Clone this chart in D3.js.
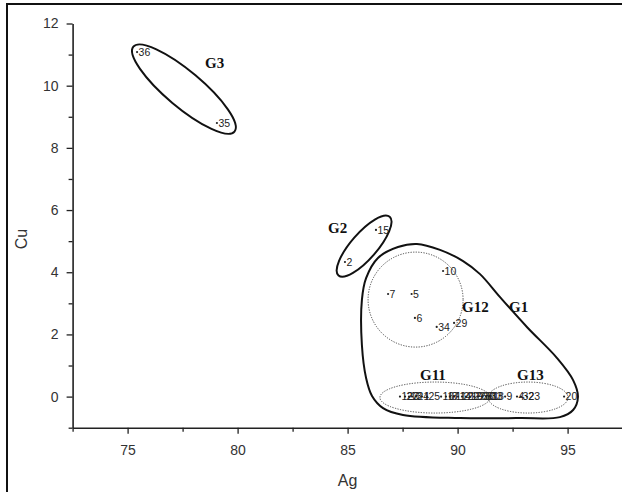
<!DOCTYPE html>
<html>
<head>
<meta charset="utf-8">
<script src="https://cdn.jsdelivr.net/npm/d3@7"></script>
<style>
  html, body { margin: 0; padding: 0; background: #fff; }
  svg { display: block; }
</style>
</head>
<body>
<div id="chart"></div>
<script>
// samples (numero, Ag, Cu)
var sampleIds = ["36", "35", "15", "2", "10", "7", "5", "6", "34", "29", "20",
  "12", "27", "13", "3", "24", "1", "25",
  "16", "17", "8", "11", "14", "21", "22", "19", "26", "28", "30", "31", "33", "18",
  "9", "4", "32", "23"];
var agValues = [75.43, 79.06, 86.29, 84.88, 89.34, 86.84, 87.91, 88.06, 89.05, 89.84, 94.84,
  87.38, 87.61, 87.79, 87.93, 88.11, 88.38, 88.61,
  89.25, 89.47, 89.65, 89.84, 90.02, 90.2, 90.38, 90.56, 90.75, 90.93, 91.11, 91.29, 91.43, 91.5,
  92.16, 92.7, 92.88, 93.15];
var cuValues = [11.08, 8.8, 5.36, 4.33, 4.04, 3.3, 3.3, 2.53, 2.24, 2.37, 0,
  0, 0, 0, 0, 0, 0, 0,
  0, 0, 0, 0, 0, 0, 0, 0, 0, 0, 0, 0, 0, 0,
  0, 0, 0, 0];

// axes
var xTicks = [75, 80, 85, 90, 95];
var xMinorTicks = [72.5, 77.5, 82.5, 87.5, 92.5, 97.5];
var yTicks = [0, 2, 4, 6, 8, 10, 12];
var yMinorTicks = [-1, 1, 3, 5, 7, 9, 11];

// groupes en ellipse : centre (Ag, Cu)
var ellipseNames = ["G3", "G2", "G12", "G11", "G13"];
var ellipseAg = [77.56, 85.75, 88.09, 88.97, 93.2];
var ellipseCu = [9.89, 4.84, 3.12, -0.03, -0.03];
var ellipseDotted = [false, false, true, true, true];

// contour du groupe G1 (Ag, Cu)
var g1Ag = [88.15, 89.2, 90.25, 91.02, 91.93, 93.15, 94.52, 95.25, 95.47, 95.25, 94.65,
  92.84, 90.11, 87.52, 86.61, 86.11, 85.84, 85.65, 85.65, 85.84, 86.38, 87.29];
var g1Cu = [4.91, 4.72, 4.36, 3.94, 3.2, 2.24, 1.24, 0.53, -0.01, -0.43, -0.66,
  -0.69, -0.69, -0.59, -0.37, 0.02, 0.6, 1.66, 3.11, 3.81, 4.46, 4.81];

// etiquettes des groupes (Ag, Cu)
var groupLabels = ["G3", "G2", "G12", "G1", "G11", "G13"];
var groupLabelAg = [78.52, 84.11, 90.2, 92.34, 88.29, 92.7];
var groupLabelCu = [10.57, 5.26, 2.72, 2.72, 0.53, 0.53];

var W = 622, H = 492;
var margin = {top: 23.5, left: 72.6};
var plotW = 550, plotH = 404.2;

var svg = d3.select("#chart").append("svg")
  .attr("width", W).attr("height", H);

// cadre
svg.append("rect")
  .attr("x", 7).attr("y", 4)
  .attr("width", W + 20).attr("height", H + 20)
  .attr("fill", "none").attr("stroke", "#111").attr("stroke-width", 2);

var x = d3.scaleLinear().domain([72.5, 97.5]).range([margin.left, margin.left + plotW]);
var y = d3.scaleLinear().domain([-1, 12]).range([margin.top + plotH, margin.top]);

// axe X
svg.append("g")
  .attr("transform", "translate(0," + (margin.top + plotH) + ")")
  .call(d3.axisBottom(x).tickValues(xTicks).tickSize(6).tickPadding(11).tickSizeOuter(0));
svg.append("g")
  .attr("transform", "translate(0," + (margin.top + plotH) + ")")
  .call(d3.axisBottom(x).tickValues(xMinorTicks).tickSize(4).tickFormat("").tickSizeOuter(0))
  .select(".domain").remove();

// axe Y
svg.append("g")
  .attr("transform", "translate(" + margin.left + ",0)")
  .call(d3.axisLeft(y).tickValues(yTicks).tickSize(6).tickPadding(8).tickSizeOuter(0));
svg.append("g")
  .attr("transform", "translate(" + margin.left + ",0)")
  .call(d3.axisLeft(y).tickValues(yMinorTicks).tickSize(4).tickFormat("").tickSizeOuter(0))
  .select(".domain").remove();

svg.selectAll(".tick line").attr("stroke", "#222").attr("stroke-width", 1.3);
svg.selectAll(".domain").attr("stroke", "#222").attr("stroke-width", 1.6);
svg.selectAll(".tick text")
  .attr("fill", "#333")
  .style("font-family", "Arial, 'Liberation Sans', sans-serif")
  .style("font-size", "14px");

// titres des axes
svg.append("text")
  .attr("x", margin.left + plotW / 2).attr("y", 486)
  .attr("text-anchor", "middle")
  .attr("fill", "#333")
  .style("font-family", "Arial, 'Liberation Sans', sans-serif")
  .style("font-size", "16px")
  .text("Ag");
svg.append("text")
  .attr("transform", "translate(27,239) rotate(-90)")
  .attr("text-anchor", "middle")
  .attr("fill", "#333")
  .style("font-family", "Arial, 'Liberation Sans', sans-serif")
  .style("font-size", "16px")
  .text("Cu");

// contour G1
var g1 = g1Ag.map(function(a, i) { return [a, g1Cu[i]]; });
svg.append("path")
  .attr("d", d3.line()
    .x(function(d) { return x(d[0]); })
    .y(function(d) { return y(d[1]); })
    .curve(d3.curveCatmullRomClosed.alpha(0.5))(g1))
  .attr("fill", "none").attr("stroke", "#111").attr("stroke-width", 2);

// ellipses (taille et rotation en pixels)
var ellipseRx = {G3: 66, G2: 39, G12: 47.5, G11: 55, G13: 40};
var ellipseRy = {G3: 18, G2: 13, G12: 47.5, G11: 15.5, G13: 15.5};
var ellipseRot = {G3: 40, G2: -49, G12: 0, G11: 0, G13: 0};

ellipseNames.forEach(function(n, i) {
  var e = svg.append("ellipse")
    .attr("transform", "translate(" + x(ellipseAg[i]) + "," + y(ellipseCu[i]) + ") rotate(" + ellipseRot[n] + ")")
    .attr("rx", ellipseRx[n]).attr("ry", ellipseRy[n])
    .attr("fill", "none");
  if (ellipseDotted[i]) {
    e.attr("stroke", "#444").attr("stroke-width", 1).attr("stroke-dasharray", "1.2,1.4");
  } else {
    e.attr("stroke", "#111").attr("stroke-width", 2);
  }
});

// points
var pts = sampleIds.map(function(id, i) { return {id: id, ag: agValues[i], cu: cuValues[i]}; });
svg.selectAll("circle.pt")
  .data(pts)
  .enter().append("circle")
  .attr("class", "pt")
  .attr("cx", function(d) { return x(d.ag); })
  .attr("cy", function(d) { return y(d.cu); })
  .attr("r", 1.1)
  .attr("fill", "#222");

svg.selectAll("text.lab")
  .data(pts)
  .enter().append("text")
  .attr("class", "lab")
  .attr("x", function(d) { return x(d.ag) + 1.5; })
  .attr("y", function(d) { return y(d.cu) + 3.8; })
  .attr("fill", "#222")
  .style("font-family", "Arial, 'Liberation Sans', sans-serif")
  .style("font-size", "10.5px")
  .text(function(d) { return d.id; });

// noms des groupes
svg.selectAll("text.grp")
  .data(groupLabels)
  .enter().append("text")
  .attr("class", "grp")
  .attr("x", function(d, i) { return x(groupLabelAg[i]); })
  .attr("y", function(d, i) { return y(groupLabelCu[i]); })
  .attr("fill", "#111")
  .style("font-family", "'Times New Roman', 'Liberation Serif', serif")
  .style("font-weight", "bold")
  .style("font-size", "15px")
  .text(function(d) { return d; });
</script>
</body>
</html>
